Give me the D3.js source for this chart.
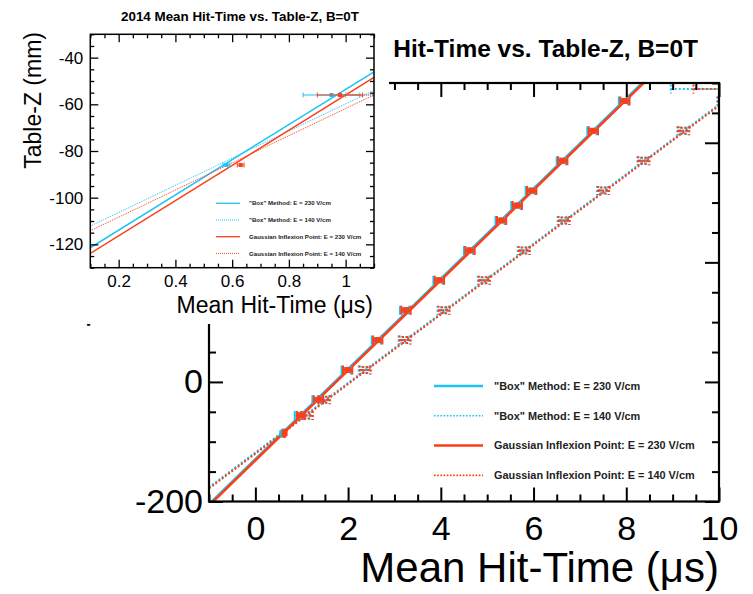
<!DOCTYPE html>
<html>
<head>
<meta charset="utf-8">
<script src="https://cdn.jsdelivr.net/npm/d3@7"></script>
<style>
  body { margin: 0; background: #fff; }
  text { font-family: "Liberation Sans", Arial, Helvetica, sans-serif; }
</style>
</head>
<body>
<script>
// legend entries, same order as the graphs are drawn
const seriesNames = [
  '"Box" Method: E = 230 V/cm',
  '"Box" Method: E = 140 V/cm',
  "Gaussian Inflexion Point: E = 230 V/cm",
  "Gaussian Inflexion Point: E = 140 V/cm"
];
const seriesColors = ["#1cc4f2", "#1cc4f2", "#ff3d17", "#ff3d17"];
const seriesDotted = [false, true, false, true];

// Table-Z (mm) of the points, E = 230 V/cm
const z230 = [-86, -56, -30, 20, 70, 120, 170, 220, 270, 295, 320, 370, 420, 470];
// mean hit-time (us)
const tBox230 = [0.58, 0.95, 1.33, 1.96, 2.61, 3.22, 3.94, 4.60, 5.28, 5.62, 5.93, 6.60, 7.26, 7.94];
const tGaus230 = [0.63, 0.98, 1.36, 1.99, 2.64, 3.25, 3.97, 4.63, 5.31, 5.65, 5.96, 6.63, 7.29, 7.97];
const eBox230 = [0.012, 0.1, 0.1, 0.1, 0.1, 0.1, 0.1, 0.1, 0.1, 0.1, 0.1, 0.1, 0.1, 0.1];
const eGaus230 = [0.012, 0.08, 0.1, 0.1, 0.1, 0.1, 0.1, 0.1, 0.1, 0.1, 0.1, 0.1, 0.1, 0.1];

// E = 140 V/cm
const z140 = [-56, -30, 20, 70, 120, 170, 220, 270, 320, 370, 420, 470, 490];
const tBox140 = [1.10, 1.47, 2.35, 3.21, 4.05, 4.92, 5.78, 6.64, 7.49, 8.36, 9.22, 10.08, 10.45];
const tGaus140 = [1.12, 1.49, 2.37, 3.23, 4.07, 4.94, 5.80, 6.66, 7.51, 8.38, 9.24, 10.10, 10.45];
const eBox140 = [0.12, 0.12, 0.12, 0.12, 0.12, 0.12, 0.12, 0.12, 0.12, 0.12, 0.12, 0.12, 1.49];
const eGaus140 = [0.12, 0.12, 0.12, 0.12, 0.12, 0.12, 0.12, 0.12, 0.12, 0.12, 0.12, 0.12, 1.0];

// straight-line fits z = a + b*t
const fitA = [-129.0, -118.0, -131.4, -120.0];
const fitB = [75.4, 58.2, 75.4, 58.2];

const series = [
  { z: z230, t: tBox230, e: eBox230 },
  { z: z140, t: tBox140, e: eBox140 },
  { z: z230, t: tGaus230, e: eGaus230 },
  { z: z140, t: tGaus140, e: eGaus140 }
];

const svg = d3.select("body").append("svg")
  .attr("width", 753)
  .attr("height", 594);

const fmt = d => String(+d.toFixed(3));

// ROOT-like frame with ticks on all four sides
function drawFrame(g, xs, ys, o) {
  const [xa, xb] = xs.range();
  const [ya, yb] = ys.range();
  const minorX = o.xMinor.filter(v => !o.xMajor.includes(v));
  const minorY = o.yMinor.filter(v => !o.yMajor.includes(v));

  const parts = [
    [d3.axisBottom(xs).tickValues(o.xMajor).tickSize(-o.big).tickPadding(o.xPad).tickFormat(fmt), `translate(0,${ya})`, true],
    [d3.axisBottom(xs).tickValues(minorX).tickSize(-o.small).tickFormat(""), `translate(0,${ya})`, false],
    [d3.axisTop(xs).tickValues(o.xMajor).tickSize(-o.big).tickFormat(""), `translate(0,${yb})`, false],
    [d3.axisTop(xs).tickValues(minorX).tickSize(-o.small).tickFormat(""), `translate(0,${yb})`, false],
    [d3.axisLeft(ys).tickValues(o.yMajor).tickSize(-o.big).tickPadding(o.yPad).tickFormat(fmt), `translate(${xa},0)`, true],
    [d3.axisLeft(ys).tickValues(minorY).tickSize(-o.small).tickFormat(""), `translate(${xa},0)`, false],
    [d3.axisRight(ys).tickValues(o.yMajor).tickSize(-o.big).tickFormat(""), `translate(${xb},0)`, false],
    [d3.axisRight(ys).tickValues(minorY).tickSize(-o.small).tickFormat(""), `translate(${xb},0)`, false]
  ];
  parts.forEach(([ax, tr, labels]) => {
    const a = g.append("g").attr("transform", tr).call(ax);
    a.select(".domain").remove();
    a.selectAll(".tick line").attr("stroke", "#000").attr("stroke-width", o.tickW);
    if (labels) {
      a.selectAll(".tick text")
        .attr("fill", "#000")
        .style("font-size", o.labelSize + "px");
    } else {
      a.selectAll(".tick text").remove();
    }
  });

  g.append("rect")
    .attr("x", xa).attr("y", yb)
    .attr("width", xb - xa).attr("height", ya - yb)
    .attr("fill", "none").attr("stroke", "#000").attr("stroke-width", o.frameW);
}

function drawData(g, xs, ys, clipId, o) {
  const [xa, xb] = xs.range();
  const [ya, yb] = ys.range();
  svg.append("clipPath").attr("id", clipId)
    .append("rect").attr("x", xa).attr("y", yb).attr("width", xb - xa).attr("height", ya - yb);
  const c = g.append("g").attr("clip-path", `url(#${clipId})`);

  // fitted lines
  series.forEach((s, i) => {
    const [t0, t1] = xs.domain();
    c.append("line")
      .attr("x1", xs(t0)).attr("y1", ys(fitA[i] + fitB[i] * t0))
      .attr("x2", xs(t1)).attr("y2", ys(fitA[i] + fitB[i] * t1))
      .attr("stroke", seriesColors[i])
      .attr("stroke-width", seriesDotted[i] ? o.dotW : o.lineW)
      .attr("stroke-dasharray", seriesDotted[i] ? o.dash : null);
  });

  // points with horizontal error bars
  series.forEach((s, i) => {
    const dotted = seriesDotted[i];
    const mk = dotted ? o.mkDot : o.mk;
    const pts = c.append("g").selectAll("g")
      .data(s.z.map((z, k) => ({ z: z, t: s.t[k], e: s.e[k] })))
      .join("g")
      .attr("stroke", seriesColors[i])
      .attr("fill", "none")
      .attr("stroke-dasharray", dotted ? o.dash : null);
    pts.append("line")
      .attr("x1", d => xs(d.t - d.e)).attr("x2", d => xs(d.t + d.e))
      .attr("y1", d => ys(d.z)).attr("y2", d => ys(d.z))
      .attr("stroke-width", dotted ? o.dotW : o.barW);
    [-1, 1].forEach(sg => {
      pts.append("line")
        .attr("x1", d => xs(d.t + sg * d.e)).attr("x2", d => xs(d.t + sg * d.e))
        .attr("y1", d => ys(d.z) - o.cap).attr("y2", d => ys(d.z) + o.cap)
        .attr("stroke-width", dotted ? o.dotW : o.capW);
    });
    pts.append("rect")
      .attr("x", d => xs(d.t) - mk / 2).attr("y", d => ys(d.z) - mk / 2)
      .attr("width", mk).attr("height", mk)
      .attr("fill", dotted ? "none" : seriesColors[i])
      .attr("stroke-width", dotted ? o.dotW : 1);
  });
}

function drawLegend(g, o) {
  seriesNames.forEach((name, i) => {
    const yy = o.y0 + i * o.dy;
    g.append("line")
      .attr("x1", o.x1).attr("x2", o.x2).attr("y1", yy).attr("y2", yy)
      .attr("stroke", seriesColors[i])
      .attr("stroke-width", seriesDotted[i] ? o.dotW : o.lineW)
      .attr("stroke-dasharray", seriesDotted[i] ? o.dash : null);
    g.append("text")
      .attr("x", o.tx).attr("y", yy)
      .attr("dy", "0.35em")
      .style("font-size", o.size + "px")
      .style("font-weight", "bold")
      .attr("fill", "#222")
      .text(name);
  });
}

// ---------- main pad ----------
const main = svg.append("g");
const x = d3.scaleLinear().domain([-1, 10]).range([209, 719]);
const y = d3.scaleLinear().domain([-200, 500]).range([501.5, 83]);

main.append("text")
  .attr("x", 698).attr("y", 57)
  .attr("text-anchor", "end")
  .style("font-size", "24.5px").style("font-weight", "bold")
  .text("2014 Mean Hit-Time vs. Table-Z, B=0T");

drawData(main, x, y, "clipMain", {
  lineW: 2.5, dotW: 2, dash: "2,2", barW: 2.5, capW: 2, cap: 4.5, mk: 5, mkDot: 6
});

drawLegend(main, { x1: 434, x2: 483, tx: 494, y0: 386, dy: 29.8, size: 10.9, lineW: 2.5, dotW: 1.6, dash: "1.6,1.6" });

drawFrame(main, x, y, {
  xMajor: [0, 2, 4, 6, 8, 10], xMinor: d3.range(-1, 10.01, 0.5),
  yMajor: [-200, 0, 200, 400], yMinor: d3.range(-200, 500.1, 50),
  big: 14, small: 7, tickW: 2, frameW: 2.2, xPad: 14, yPad: 6, labelSize: 34
});

main.append("text")
  .attr("x", 719).attr("y", 582)
  .attr("text-anchor", "end")
  .style("font-size", "42px")
  .text("Mean Hit-Time (\u03bcs)");

main.append("text")
  .attr("transform", "translate(114.5,83) rotate(-90)")
  .attr("text-anchor", "end")
  .style("font-size", "41px")
  .text("Table-Z (mm)");

// ---------- inset pad ----------
const inset = svg.append("g");
inset.append("rect")
  .attr("x", 0).attr("y", 0).attr("width", 389).attr("height", 324)
  .attr("fill", "#fff");

const xi = d3.scaleLinear().domain([0.1, 1.1]).range([90.3, 374]);
const yi = d3.scaleLinear().domain([-130, -30]).range([267.7, 34.3]);

inset.append("text")
  .attr("x", 240).attr("y", 21)
  .attr("text-anchor", "middle")
  .style("font-size", "13.4px").style("font-weight", "bold")
  .text("2014 Mean Hit-Time vs. Table-Z, B=0T");

drawData(inset, xi, yi, "clipInset", {
  lineW: 1.5, dotW: 1, dash: "1,1", barW: 1.2, capW: 1, cap: 2.5, mk: 3, mkDot: 3
});

drawLegend(inset, { x1: 216, x2: 240, tx: 249, y0: 203.3, dy: 16.7, size: 6.1, lineW: 1.3, dotW: 1, dash: "1,1" });

drawFrame(inset, xi, yi, {
  xMajor: [0.2, 0.4, 0.6, 0.8, 1], xMinor: d3.range(0.1, 1.101, 0.05).map(v => +v.toFixed(2)),
  yMajor: [-120, -100, -80, -60, -40], yMinor: d3.range(-130, -29, 5),
  big: 8, small: 4, tickW: 1.3, frameW: 1.5, xPad: 7, yPad: 7, labelSize: 17
});

inset.append("text")
  .attr("x", 373).attr("y", 313)
  .attr("text-anchor", "end")
  .style("font-size", "23px")
  .text("Mean Hit-Time (\u03bcs)");

inset.append("text")
  .attr("transform", "translate(41,32) rotate(-90)")
  .attr("text-anchor", "end")
  .style("font-size", "23px")
  .text("Table-Z (mm)");
</script>
</body>
</html>
